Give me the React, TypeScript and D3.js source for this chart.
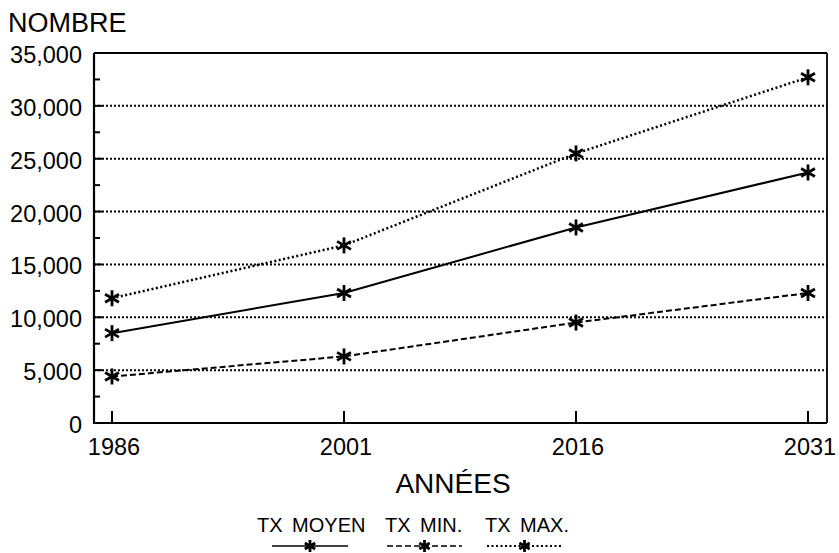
import React from "react";
import * as d3 from "d3";

const years = [1986, 2001, 2016, 2031];
const txMoyen = [8500, 12300, 18500, 23700];
const txMin = [4400, 6300, 9500, 12300];
const txMax = [11800, 16800, 25500, 32700];
const yTicks = [0, 5000, 10000, 15000, 20000, 25000, 30000, 35000];
const yMinorTicks = [2500, 7500, 12500, 17500, 22500, 27500, 32500];
const seriesNames = ["TX MOYEN", "TX MIN.", "TX MAX."];
const yTitle = "NOMBRE";
const xTitle = "ANNÉES";

const W = 839;
const H = 553;
const FONT = "'Liberation Sans', Arial, sans-serif";

const styles = [
  { dash: null as string | null, width: 2 },
  { dash: "6,3", width: 2 },
  { dash: "2,2.5", width: 2.5 },
];

function Star({ cx, cy, r = 8 }: { cx: number; cy: number; r?: number }) {
  const a = Math.PI / 6;
  const dx = r * Math.cos(a);
  const dy = r * Math.sin(a);
  return (
    <g stroke="#000" strokeWidth={2.8} strokeLinecap="butt">
      <line x1={cx} y1={cy - r} x2={cx} y2={cy + r} />
      <line x1={cx - dx} y1={cy - dy} x2={cx + dx} y2={cy + dy} />
      <line x1={cx - dx} y1={cy + dy} x2={cx + dx} y2={cy - dy} />
    </g>
  );
}

export default function App() {
  const x = d3.scaleLinear().domain([1986, 2031]).range([112, 808]);
  const y = d3.scaleLinear().domain([0, 35000]).range([423, 53]);
  const left = 94;
  const right = 827;
  const fmt = d3.format(",");
  const line = d3
    .line<number>()
    .x((_, i) => x(years[i]))
    .y((d) => y(d));
  const allSeries = [txMoyen, txMin, txMax];

  const legendTextX = [257, 385, 485];
  const legendLine = [
    [272, 348],
    [387, 462],
    [487, 562],
  ];

  return (
    <svg
      width={W}
      height={H}
      style={{ position: "absolute", left: 0, top: 0, background: "#fff" }}
      fontFamily={FONT}
    >
      <rect x={0} y={0} width={W} height={H} fill="#fff" />
      {yTicks
        .filter((t) => t > 0 && t < 35000)
        .map((t) => (
          <line
            key={"g" + t}
            x1={left}
            x2={right}
            y1={y(t)}
            y2={y(t)}
            stroke="#000"
            strokeWidth={2}
            strokeDasharray="2,2"
          />
        ))}
      {yTicks.map((t) => (
        <line key={"mt" + t} x1={left} x2={left + 8} y1={y(t)} y2={y(t)} stroke="#000" strokeWidth={2} />
      ))}
      {yMinorTicks.map((t) => (
        <line key={"mi" + t} x1={left} x2={left + 6} y1={y(t)} y2={y(t)} stroke="#000" strokeWidth={2} />
      ))}
      <line x1={left} x2={left} y1={y(35000)} y2={y(0) + 1} stroke="#000" strokeWidth={2.2} />
      <line x1={left} x2={right} y1={y(0)} y2={y(0)} stroke="#000" strokeWidth={2} />
      <line x1={left} x2={right} y1={y(35000)} y2={y(35000)} stroke="#000" strokeWidth={1.8} />
      <line x1={right} x2={right} y1={y(35000)} y2={y(0)} stroke="#000" strokeWidth={1.8} />
      {years.map((yr) => (
        <line key={"xt" + yr} x1={x(yr)} x2={x(yr)} y1={y(0)} y2={y(0) - 12} stroke="#000" strokeWidth={2} />
      ))}
      {yTicks.map((t) => (
        <text key={"yl" + t} x={82} y={y(t) + 10} textAnchor="end" fontSize={23.5} fill="#000">
          {fmt(t)}
        </text>
      ))}
      {years.map((yr) => (
        <text key={"xl" + yr} x={x(yr) + 2} y={455} textAnchor="middle" fontSize={23.5} fill="#000">
          {yr}
        </text>
      ))}
      <text x={8} y={32} fontSize={27} fill="#000">
        {yTitle}
      </text>
      <text x={453} y={493} textAnchor="middle" fontSize={28} fill="#000">
        {xTitle}
      </text>
      {allSeries.map((s, i) => (
        <g key={"s" + i}>
          <path
            d={line(s) || ""}
            fill="none"
            stroke="#000"
            strokeWidth={styles[i].width}
            strokeDasharray={styles[i].dash || undefined}
          />
          {s.map((v, j) => (
            <Star key={j} cx={x(years[j])} cy={y(v)} />
          ))}
        </g>
      ))}
      {seriesNames.map((n, i) => (
        <g key={"lg" + i}>
          <text x={legendTextX[i]} y={532} fontSize={20} fill="#000" wordSpacing={4}>
            {n}
          </text>
          <line
            x1={legendLine[i][0]}
            x2={legendLine[i][1]}
            y1={546}
            y2={546}
            stroke="#000"
            strokeWidth={styles[i].width - 0.5}
            strokeDasharray={styles[i].dash || undefined}
          />
          <Star cx={(legendLine[i][0] + legendLine[i][1]) / 2} cy={546} r={6} />
        </g>
      ))}
    </svg>
  );
}
